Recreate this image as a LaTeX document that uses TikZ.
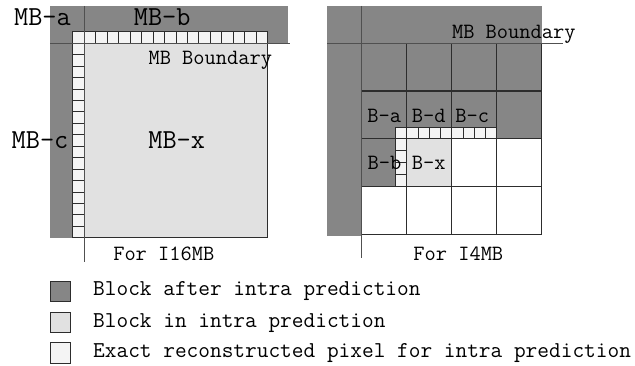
\documentclass[tikz,border=0pt]{standalone}
\usepackage{tikz}
\usetikzlibrary{positioning,calc}

\definecolor{darkfill}{RGB}{134,134,134}
\definecolor{midfill}{RGB}{225,225,225}
\definecolor{pixfill}{RGB}{244,244,244}
\definecolor{gridcol}{RGB}{45,45,45}
\definecolor{boundcol}{RGB}{80,80,80}

\tikzset{
    biglabel/.style={font=\ttfamily\fontsize{27.5}{32}\selectfont, anchor=base, inner sep=0pt},
    smalllabel/.style={font=\ttfamily\fontsize{21.8}{26}\selectfont, anchor=base, inner sep=0pt},
    keytext/.style={font=\ttfamily\fontsize{22.7}{27}\selectfont, anchor=base west, inner sep=0pt},
    pix/.style={draw=gridcol, fill=pixfill, line width=0.9pt},
    gridline/.style={draw=gridcol, line width=1.1pt},
    boundline/.style={draw=boundcol, line width=0.9pt},
    keybox/.style={draw=gridcol, line width=1pt, minimum width=20pt, minimum height=20.5pt, inner sep=0pt}
}

\begin{document}
\begin{tikzpicture}[x=1pt, y=-1pt]
    \useasboundingbox (0,0) rectangle (635,366);

    % I16MB
    \fill[darkfill] (50,6) rectangle (288,43.3);
    \fill[darkfill] (50,43.3) rectangle (72.3,237.7);
    \draw[gridline, line width=1.4pt, fill=midfill] (84.3,43.3) rectangle (267.7,237.7);
    \draw[pix] (72.3,31.7) rectangle (84.3,43.3);
    \foreach \i in {0,...,15}
        \draw[pix] ({84.3+11.46*\i},31.7) rectangle ++(11.46,11.6);
    \foreach \i in {0,...,16}
        \draw[pix] (72.3,{43.3+11.44*\i}) rectangle ++(12,11.44);
    \draw[boundline] (50,43.3) -- (290,43.3);
    \draw[boundline] (84,6) -- (84,262);
    \node[biglabel] (mba) at (42.5,26) {MB-a};
    \node[biglabel] (mbb) at (162.2,26) {MB-b};
    \node[biglabel] (mbc) at (40,149) {MB-c};
    \node[biglabel] (mbx) at (176.7,149) {MB-x};
    \node[smalllabel] (bndleft) at (210.3,65) {MB Boundary};
    \node[smalllabel] (fori16) at (163.8,260.7) {For I16MB};

    % I4MB
    \begin{scope}[xshift=320pt]
        \fill[darkfill] (7,6) rectangle (221.7,138.7);
        \fill[darkfill] (7,138.7) rectangle (41.7,235.7);
        \fill[darkfill] (41.7,138.7) rectangle (75,186.4);
        \fill[midfill] (86.7,138.7) rectangle (131.7,186.4);
        \draw[pix] (75,127) rectangle (86.7,138.7);
        \foreach \i in {0,...,7}
            \draw[pix] ({86.7+11.25*\i},127) rectangle ++(11.25,11.7);
        \foreach \i in {0,...,3}
            \draw[pix] (75,{138.7+11.925*\i}) rectangle ++(11.7,11.925);
        \foreach \i in {0,...,4} {
            \draw[gridline] ({41.7+45*\i},43.3) -- ++(0,190.8);
            \draw[gridline] (41.7,{43.3+47.7*\i}) -- ++(180,0);
        }
        \draw[boundline] (7,43.3) -- (243,43.3);
        \draw[boundline] (41.7,6) -- (41.7,258);
        \node[smalllabel] (ba) at (64.2,122.7) {B-a};
        \node[smalllabel] (bd) at (108.7,122.7) {B-d};
        \node[smalllabel] (bc) at (152.2,122.7) {B-c};
        \node[smalllabel] (bb) at (64.5,170) {B-b};
        \node[smalllabel] (bx) at (108.7,170) {B-x};
        \node[smalllabel] (bndright) at (193.8,38.3) {MB Boundary};
        \node[smalllabel] (fori4) at (138.3,260.7) {For I4MB};
    \end{scope}

    % legend
    \node[keybox, fill=darkfill] (keyafter) at (60,291.5) {};
    \node[keybox, fill=midfill] (keyin) at (60,322.7) {};
    \node[keybox, fill=pixfill] (keypix) at (60,353) {};
    \node[keytext] (txtafter) at (93,296) {Block after intra prediction};
    \node[keytext] (txtin) at (93,327) {Block in intra prediction};
    \node[keytext] (txtpix) at (93,357.5) {Exact reconstructed pixel for intra prediction};
\end{tikzpicture}
\end{document}
